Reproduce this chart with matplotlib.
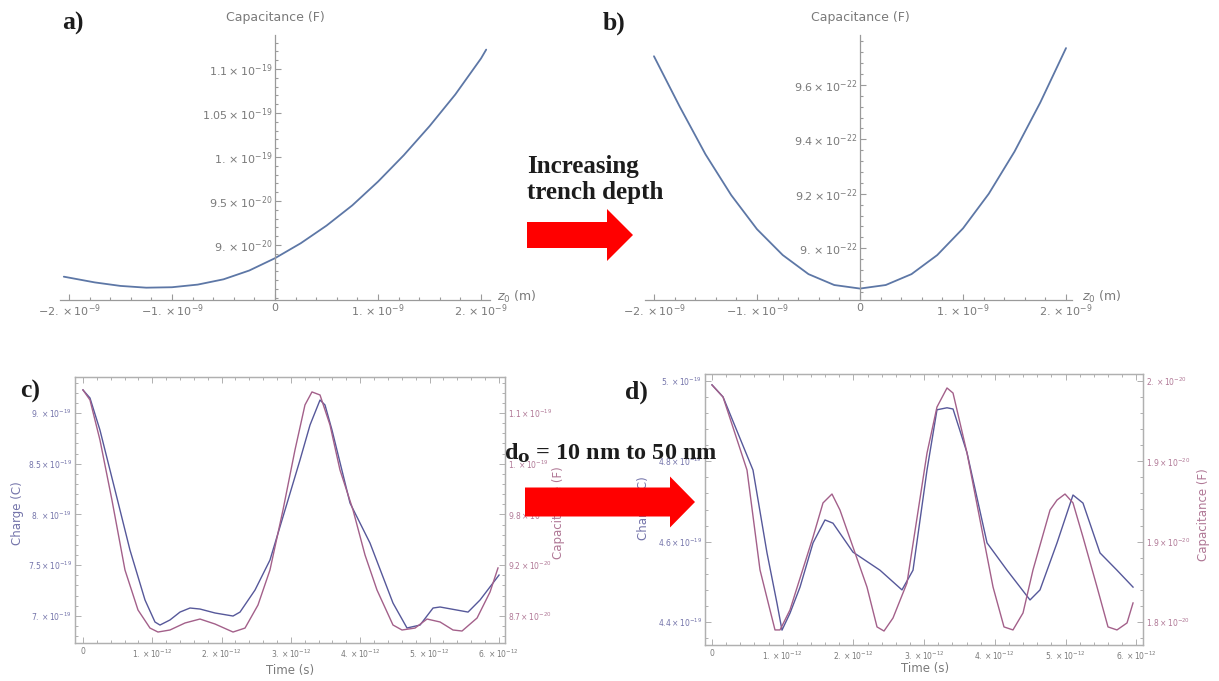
import math
import numpy as np
import matplotlib
matplotlib.use("Agg")
import matplotlib.pyplot as plt
from matplotlib.ticker import AutoMinorLocator, FuncFormatter
from matplotlib.patches import FancyArrow

W, H = 1219, 681

# ---------------- data ----------------
# (a) capacitance vs. vertical offset z0, shallow trench
z_a_nm = [-2.05, -1.75, -1.5, -1.25, -1.0, -0.75, -0.5, -0.25, 0.0, 0.25,
          0.5, 0.75, 1.0, 1.25, 1.5, 1.75, 2.0, 2.05]
cap_a_e20 = [8.64, 8.575, 8.535, 8.515, 8.52, 8.55, 8.61, 8.71, 8.85, 9.02,
             9.22, 9.45, 9.72, 10.02, 10.35, 10.71, 11.12, 11.22]

# (b) capacitance vs. z0, deeper trench
z_b_nm = [-2.0, -1.75, -1.5, -1.25, -1.0, -0.75, -0.5, -0.25, 0.0, 0.25,
          0.5, 0.75, 1.0, 1.25, 1.5, 1.75, 2.0]
cap_b_e22 = [9.705, 9.52, 9.345, 9.195, 9.07, 8.975, 8.905, 8.865, 8.852, 8.865,
             8.905, 8.975, 9.073, 9.20, 9.355, 9.535, 9.735]

# (c) d0 = 10 nm: charge and capacitance vs. time
t_c_charge_ps = [0, 0.101, 0.245, 0.462, 0.678, 0.895, 1.039, 1.111, 1.255, 1.400,
                 1.544, 1.688, 1.905, 2.165, 2.266, 2.482, 2.698, 2.915, 3.131, 3.276,
                 3.420, 3.492, 3.593, 3.853, 4.141, 4.473, 4.675, 4.863, 5.051, 5.152,
                 5.556, 5.729, 6.003]
charge_c_e19 = [9.227, 9.148, 8.832, 8.241, 7.649, 7.156, 6.939, 6.909, 6.959, 7.037,
                7.077, 7.067, 7.028, 6.998, 7.037, 7.254, 7.550, 8.043, 8.536, 8.882,
                9.128, 9.079, 8.832, 8.112, 7.718, 7.126, 6.880, 6.909, 7.077, 7.087,
                7.037, 7.156, 7.402]
t_c_cap_ps = [0, 0.101, 0.245, 0.418, 0.606, 0.794, 0.967, 1.082, 1.255, 1.472,
              1.688, 1.905, 2.165, 2.338, 2.525, 2.698, 2.886, 3.059, 3.203, 3.304,
              3.420, 3.564, 3.708, 3.896, 4.069, 4.242, 4.473, 4.603, 4.791, 4.964,
              5.152, 5.339, 5.469, 5.686, 5.873, 5.988]
cap_c_e20 = [11.150, 11.041, 10.607, 9.956, 9.197, 8.763, 8.567, 8.524, 8.546, 8.622,
             8.665, 8.611, 8.524, 8.567, 8.817, 9.197, 9.848, 10.499, 10.987, 11.128,
             11.095, 10.770, 10.282, 9.848, 9.360, 8.980, 8.600, 8.546, 8.567, 8.665,
             8.633, 8.546, 8.535, 8.676, 8.958, 9.219]

# (d) d0 = 50 nm: charge and capacitance vs. time
t_d_charge_ps = [0, 0.156, 0.580, 0.778, 0.919, 0.990, 1.103, 1.245, 1.429, 1.598,
                 1.711, 1.994, 2.376, 2.687, 2.843, 3.041, 3.182, 3.324, 3.409, 3.607,
                 3.890, 4.173, 4.498, 4.639, 4.880, 5.106, 5.247, 5.488, 5.728, 5.955]
charge_d_e19 = [4.990, 4.960, 4.778, 4.572, 4.447, 4.380, 4.422, 4.487, 4.597, 4.654,
                4.646, 4.574, 4.529, 4.480, 4.529, 4.778, 4.928, 4.933, 4.930, 4.821,
                4.597, 4.529, 4.455, 4.480, 4.597, 4.716, 4.696, 4.572, 4.529, 4.487]
t_d_cap_ps = [0, 0.156, 0.495, 0.679, 0.820, 0.891, 0.962, 1.103, 1.429, 1.570,
              1.697, 1.810, 1.994, 2.192, 2.334, 2.433, 2.560, 2.758, 3.041, 3.182,
              3.324, 3.409, 3.607, 3.791, 3.975, 4.130, 4.257, 4.399, 4.540, 4.781,
              4.880, 4.993, 5.106, 5.247, 5.446, 5.601, 5.728, 5.870, 5.955]
cap_d_e20 = [1.9967, 1.9867, 1.9261, 1.8432, 1.8100, 1.7934, 1.7934, 1.8100, 1.8705, 1.8988,
             1.9062, 1.8929, 1.8622, 1.8290, 1.7959, 1.7925, 1.8033, 1.8324, 1.9402, 1.9784,
             1.9942, 1.9900, 1.9402, 1.8846, 1.8290, 1.7959, 1.7934, 1.8075, 1.8432, 1.8929,
             1.9012, 1.9062, 1.8988, 1.8705, 1.8290, 1.7959, 1.7934, 1.7992, 1.8158]

# tick values
z_ticks_nm = [-2, -1, 0, 1, 2]
cap_a_ticks_e20 = [9.0, 9.5, 10.0, 10.5, 11.0]
cap_b_ticks_e22 = [9.0, 9.2, 9.4, 9.6]
time_ticks_ps = [0, 1, 2, 3, 4, 5, 6]
charge_c_ticks_e19 = [7.0, 7.5, 8.0, 8.5, 9.0]
cap_c_ticks_e20 = [8.7, 9.25, 9.8, 10.35, 10.9]
charge_d_ticks_e19 = [4.4, 4.6, 4.8, 5.0]
cap_d_ticks_e20 = [1.8, 1.8667, 1.9333, 2.0]

# ---------------- style ----------------
CURVE = "#5d77a6"
BLUE = "#56589a"
PURPLE = "#a3608a"
AX_GRAY = "#9a9a9a"
LBL_GRAY = "#7a7a7a"
FRAME = "#b0b0b0"
BLUE_LBL = "#7474aa"
PINK_LBL = "#b07896"
TEXT_DARK = "#1c1c1c"

fig = plt.figure(figsize=(W / 100, H / 100), dpi=100)
fig.patch.set_facecolor("white")


def sci_label(v, dec):
    if abs(v) < 1e-40:
        return "0"
    e = math.floor(math.log10(abs(v)) + 1e-9)
    m = round(v / 10.0 ** e, 9)
    s = f"{m:.{dec}f}".rstrip("0")
    return rf"${s}\times10^{{{e}}}$"


def px_axes(l, t, r, b):
    return fig.add_axes([l / W, 1 - b / H, (r - l) / W, (b - t) / H])


def crossing_axes(rect, xlim, ylim, xticks, yticks, ydec):
    ax = px_axes(*rect)
    ax.set_xlim(*xlim)
    ax.set_ylim(*ylim)
    ax.patch.set_alpha(0)
    ax.spines[["top", "right"]].set_visible(False)
    ax.spines["left"].set_position(("data", 0))
    for s in ("left", "bottom"):
        ax.spines[s].set_color(AX_GRAY)
        ax.spines[s].set_linewidth(0.9)
    ax.set_xticks(xticks)
    ax.set_yticks(yticks)
    ax.xaxis.set_minor_locator(AutoMinorLocator(5))
    ax.yaxis.set_minor_locator(AutoMinorLocator(5))
    ax.xaxis.set_major_formatter(FuncFormatter(lambda v, p: sci_label(v, 1)))
    ax.yaxis.set_major_formatter(FuncFormatter(lambda v, p: sci_label(v, ydec)))
    ax.tick_params(which="both", direction="in", color=AX_GRAY,
                   labelcolor=LBL_GRAY, labelsize=8, width=0.8)
    ax.tick_params(which="major", length=4, pad=2)
    ax.tick_params(which="minor", length=2)
    return ax


def framed_axes(rect, tlim, qlim, clim, qticks, cticks, qdec, cdec):
    ax = px_axes(*rect)
    ax.set_xlim(*tlim)
    ax.set_ylim(*qlim)
    ax2 = ax.twinx()
    ax2.set_ylim(*clim)
    for a in (ax, ax2):
        for s in a.spines.values():
            s.set_color(FRAME)
            s.set_linewidth(0.9)
    ax.set_xticks(np.array(time_ticks_ps) * 1e-12)
    ax.xaxis.set_minor_locator(AutoMinorLocator(5))
    ax.set_yticks(qticks)
    ax.yaxis.set_minor_locator(AutoMinorLocator(5))
    ax2.set_yticks(cticks)
    ax2.yaxis.set_minor_locator(AutoMinorLocator(5))
    ax.xaxis.set_major_formatter(FuncFormatter(lambda v, p: sci_label(v, 1)))
    ax.yaxis.set_major_formatter(FuncFormatter(lambda v, p: sci_label(v, qdec)))
    ax2.yaxis.set_major_formatter(FuncFormatter(lambda v, p: sci_label(v, cdec)))
    ax.tick_params(which="both", direction="in", top=True, right=False,
                   color=FRAME, width=0.7, labelsize=5.5)
    ax.tick_params(axis="x", labelcolor=LBL_GRAY, pad=3)
    ax.tick_params(axis="y", labelcolor=BLUE_LBL, pad=2)
    ax2.tick_params(which="both", direction="in", right=True, left=False,
                    color=FRAME, width=0.7, labelsize=5.5, labelcolor=PINK_LBL, pad=2)
    for a in (ax, ax2):
        a.tick_params(which="major", length=4)
        a.tick_params(which="minor", length=2)
    return ax, ax2


# ---------------- (a) ----------------
ax_a = crossing_axes((60, 35, 490, 300), (-2.087e-9, 2.087e-9), (8.375e-20, 11.386e-20),
                     np.array(z_ticks_nm) * 1e-9, np.array(cap_a_ticks_e20) * 1e-20, 2)
ax_a.plot(np.array(z_a_nm) * 1e-9, np.array(cap_a_e20) * 1e-20, color=CURVE, lw=1.3,
          solid_capstyle="round", solid_joinstyle="round")

# ---------------- (b) ----------------
ax_b = crossing_axes((645, 35, 1072, 300), (-2.087e-9, 2.058e-9), (8.81e-22, 9.783e-22),
                     np.array(z_ticks_nm) * 1e-9, np.array(cap_b_ticks_e22) * 1e-22, 1)
ax_b.plot(np.array(z_b_nm) * 1e-9, np.array(cap_b_e22) * 1e-22, color=CURVE, lw=1.3,
          solid_capstyle="round", solid_joinstyle="round")

# ---------------- (c) ----------------
ax_c, ax_c2 = framed_axes((75, 377, 505, 643), (-0.115e-12, 6.089e-12),
                          (6.732e-19, 9.355e-19), (8.405e-20, 11.29e-20),
                          np.array(charge_c_ticks_e19) * 1e-19,
                          np.array(cap_c_ticks_e20) * 1e-20, 1, 1)
ax_c.plot(np.array(t_c_charge_ps) * 1e-12, np.array(charge_c_e19) * 1e-19, color=BLUE, lw=1.0)
ax_c2.plot(np.array(t_c_cap_ps) * 1e-12, np.array(cap_c_e20) * 1e-20, color=PURPLE, lw=1.0)
ax_c.set_xlabel("Time (s)", color=LBL_GRAY, fontsize=8.5)
ax_c.xaxis.set_label_coords(0.5, -0.079)
ax_c.set_ylabel("Charge (C)", color=BLUE_LBL, fontsize=8.5)
ax_c.yaxis.set_label_coords(-0.119, 0.49)
ax_c2.set_ylabel("Capacitance (F)", color=PINK_LBL, fontsize=8.5)
ax_c2.yaxis.set_label_coords(1.109, 0.49)

# ---------------- (d) ----------------
ax_d, ax_d2 = framed_axes((705, 374, 1143, 645), (-0.099e-12, 6.096e-12),
                          (4.343e-19, 5.017e-19), (1.7809e-20, 2.0058e-20),
                          np.array(charge_d_ticks_e19) * 1e-19,
                          np.array(cap_d_ticks_e20) * 1e-20, 1, 1)
ax_d.plot(np.array(t_d_charge_ps) * 1e-12, np.array(charge_d_e19) * 1e-19, color=BLUE, lw=1.0)
ax_d2.plot(np.array(t_d_cap_ps) * 1e-12, np.array(cap_d_e20) * 1e-20, color=PURPLE, lw=1.0)
ax_d.set_xlabel("Time (s)", color=LBL_GRAY, fontsize=8.5)
ax_d.xaxis.set_label_coords(0.502, -0.062)
ax_d.set_ylabel("Charge (C)", color=BLUE_LBL, fontsize=8.5)
ax_d.yaxis.set_label_coords(-0.126, 0.505)
ax_d2.set_ylabel("Capacitance (F)", color=PINK_LBL, fontsize=8.5)
ax_d2.yaxis.set_label_coords(1.123, 0.48)

# ---------------- annotations layer ----------------
ov = fig.add_axes([0, 0, 1, 1], zorder=20)
ov.set_xlim(0, W)
ov.set_ylim(H, 0)
ov.axis("off")
ov.patch.set_alpha(0)

ov.text(275, 17, "Capacitance (F)", ha="center", va="center", fontsize=9, color=LBL_GRAY)
ov.text(860, 17, "Capacitance (F)", ha="center", va="center", fontsize=9, color=LBL_GRAY)
ov.text(497, 297, r"$z_0$ (m)", ha="left", va="center", fontsize=9, color=LBL_GRAY)
ov.text(1082, 297, r"$z_0$ (m)", ha="left", va="center", fontsize=9, color=LBL_GRAY)

serif = dict(family="Liberation Serif", weight="bold", color=TEXT_DARK)
ov.text(62, 23, "a)", ha="left", va="center", fontsize=18.5, **serif)
ov.text(603, 23, "b)", ha="left", va="center", fontsize=18.5, **serif)
ov.text(20, 391, "c)", ha="left", va="center", fontsize=18.5, **serif)
ov.text(625, 392, "d)", ha="left", va="center", fontsize=18.5, **serif)

ov.text(527, 167, "Increasing", ha="left", va="center", fontsize=18, **serif)
ov.text(527, 192, "trench depth", ha="left", va="center", fontsize=18, **serif)
ov.text(504, 453, r"d$_{\mathbf{o}}$ = 10 nm to 50 nm", ha="left", va="center",
        fontsize=17.5, math_fontfamily="dejavuserif", **serif)

ov.add_patch(FancyArrow(527, 235, 106, 0, width=26, head_width=52, head_length=26,
                        length_includes_head=True, color="#ff0000", lw=0))
ov.add_patch(FancyArrow(525, 502, 170, 0, width=29, head_width=51, head_length=25,
                        length_includes_head=True, color="#ff0000", lw=0))

fig.savefig("out.png", dpi=100, facecolor="white")
